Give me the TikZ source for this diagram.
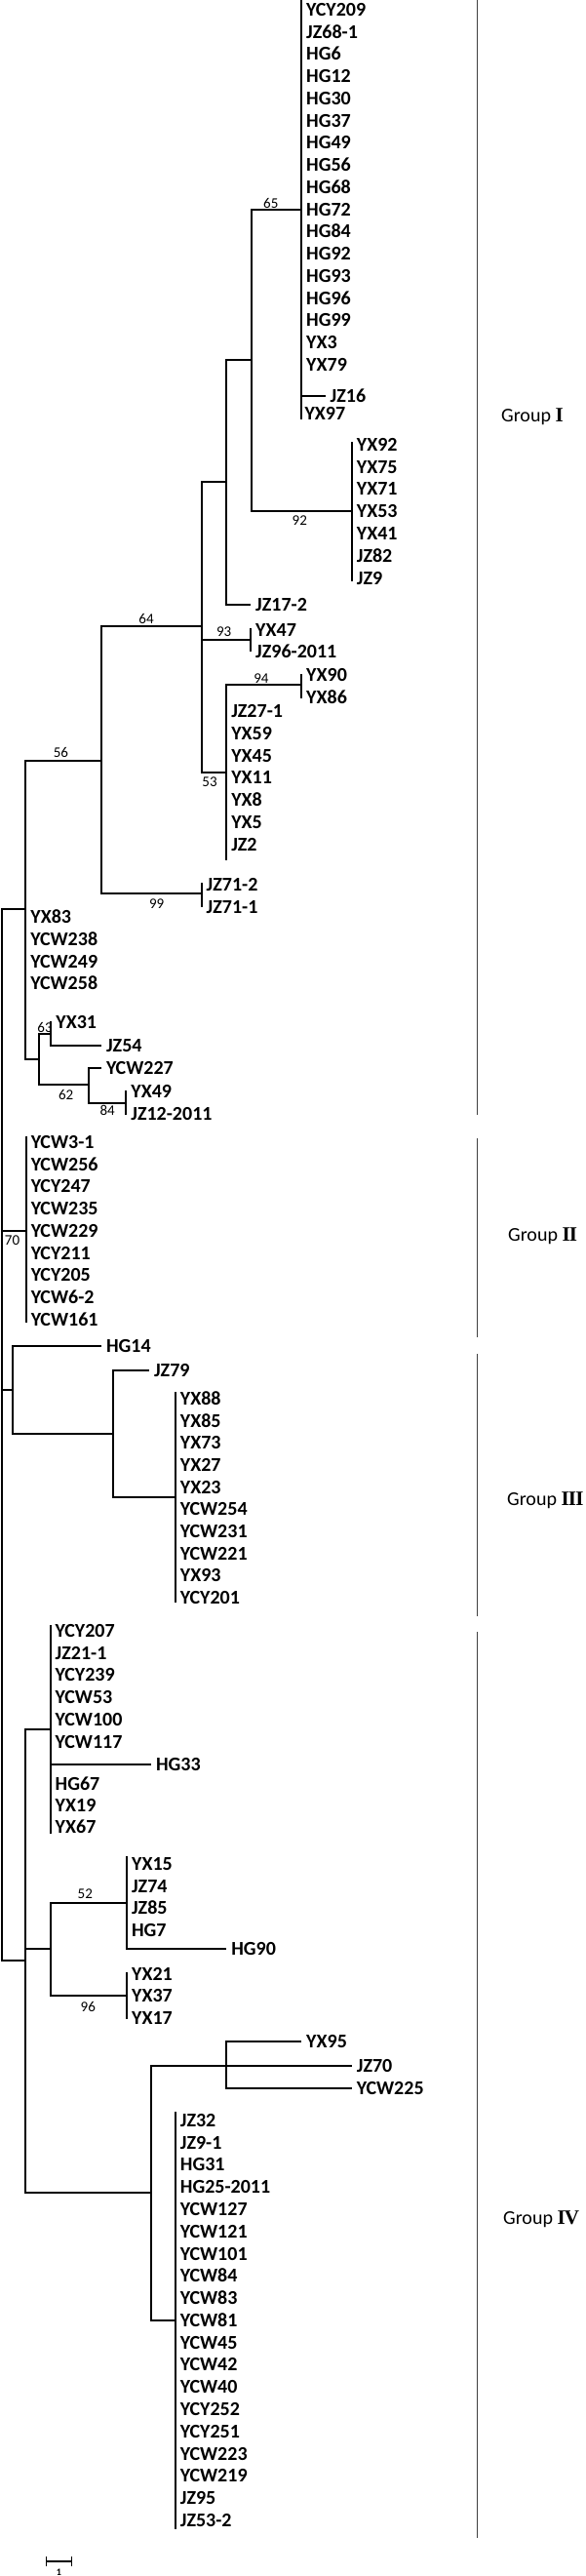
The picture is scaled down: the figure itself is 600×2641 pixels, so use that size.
\documentclass[tikz,border=0pt]{standalone}
\usepackage{fontspec}
\setmainfont{Carlito}
\newfontfamily\grpnum{Liberation Serif}
\usetikzlibrary{arrows.meta}

\tikzset{
    leaf/.style={anchor=west, inner xsep=5pt, inner ysep=0pt, outer sep=0pt,
        text height=12.6pt, text depth=0pt, font=\bfseries\fontsize{20}{20}\selectfont},
    boot/.style={inner sep=0pt, font=\fontsize{15}{15}\selectfont},
    branch/.style={line width=2pt},
    bracket/.style={line width=1.1pt, black!75},
    grp/.style={anchor=west, inner sep=0pt, text height=12.8pt, text depth=0pt,
        font=\fontsize{20}{20}\selectfont}
}
\newcommand{\grpno}[1]{{\grpnum\bfseries\fontsize{21}{21}\selectfont #1}}

\begin{document}
\begin{tikzpicture}[x=1pt, y=-1pt]
        \useasboundingbox (0,0) rectangle (600,2641);

        \coordinate (r) at (1.5, 1471);
        \coordinate (gI) at (26.4, 932);
        \coordinate (n56) at (104.1, 780);
        \coordinate (n64) at (206.7, 642);
        \coordinate (nA) at (232.3, 494);
        \coordinate (nB) at (257.6, 369);
        \coordinate (n65) at (309.2, 215);
        \coordinate (n65t) at (309.2, 0.5);
        \coordinate (n65b) at (309.2, 430);
        \coordinate (n92) at (360.9, 524);
        \coordinate (n92t) at (360.9, 453);
        \coordinate (n92b) at (360.9, 596);
        \coordinate (n93) at (257.2, 656);
        \coordinate (n93t) at (257.2, 644);
        \coordinate (n93b) at (257.2, 668);
        \coordinate (n53) at (232.3, 792);
        \coordinate (n53b) at (232.3, 882);
        \coordinate (n94) at (309.2, 702);
        \coordinate (n94t) at (309.2, 691);
        \coordinate (n94b) at (309.2, 716);
        \coordinate (n99) at (206.7, 916);
        \coordinate (n99t) at (206.7, 905);
        \coordinate (n99b) at (206.7, 930);
        \coordinate (nC) at (39.8, 1086);
        \coordinate (n63) at (52.4, 1060);
        \coordinate (n63t) at (52.4, 1047);
        \coordinate (n62) at (91.1, 1112);
        \coordinate (n84) at (129.4, 1131);
        \coordinate (n84t) at (129.4, 1118);
        \coordinate (n84b) at (129.4, 1143);
        \coordinate (n70) at (26.8, 1262);
        \coordinate (n70t) at (26.8, 1165);
        \coordinate (n70b) at (26.8, 1356);
        \coordinate (nD) at (13.4, 1425);
        \coordinate (nE) at (115.6, 1470);
        \coordinate (nF) at (179.9, 1535);
        \coordinate (nFt) at (179.9, 1427);
        \coordinate (nFb) at (179.9, 1643);
        \coordinate (nG) at (26.4, 2010);
        \coordinate (nH) at (51.7, 1773);
        \coordinate (nHt) at (51.7, 1666);
        \coordinate (nHb) at (51.7, 1880);
        \coordinate (nI) at (52.4, 1998);
        \coordinate (n52) at (130.1, 1951);
        \coordinate (n52t) at (130.1, 1903);
        \coordinate (n96) at (130.1, 2046);
        \coordinate (n96t) at (130.1, 2022);
        \coordinate (n96b) at (130.1, 2070);
        \coordinate (nJ) at (154.6, 2248);
        \coordinate (nK) at (232.3, 2118);
        \coordinate (nL) at (179.9, 2379);
        \coordinate (nLt) at (179.9, 2165);
        \coordinate (nLb) at (179.9, 2593);

        \node[leaf] (YCY209) at (309.2, 10) {YCY209};
        \node[leaf] (JZ68-1) at (309.2, 32.75) {JZ68-1};
        \node[leaf] (HG6) at (309.2, 55.5) {HG6};
        \node[leaf] (HG12) at (309.2, 78.25) {HG12};
        \node[leaf] (HG30) at (309.2, 101) {HG30};
        \node[leaf] (HG37) at (309.2, 123.75) {HG37};
        \node[leaf] (HG49) at (309.2, 146.5) {HG49};
        \node[leaf] (HG56) at (309.2, 169.25) {HG56};
        \node[leaf] (HG68) at (309.2, 192) {HG68};
        \node[leaf] (HG72) at (309.2, 214.75) {HG72};
        \node[leaf] (HG84) at (309.2, 237.5) {HG84};
        \node[leaf] (HG92) at (309.2, 260.25) {HG92};
        \node[leaf] (HG93) at (309.2, 283) {HG93};
        \node[leaf] (HG96) at (309.2, 305.75) {HG96};
        \node[leaf] (HG99) at (309.2, 328.5) {HG99};
        \node[leaf] (YX3) at (309.2, 351.25) {YX3};
        \node[leaf] (YX79) at (309.2, 374) {YX79};
        \node[leaf] (JZ16) at (333.7, 406) {JZ16};
        \node[leaf] (YX97) at (307.5, 424) {YX97};

        \node[leaf] (YX92) at (360.9, 456) {YX92};
        \node[leaf] (YX75) at (360.9, 478.8) {YX75};
        \node[leaf] (YX71) at (360.9, 501.6) {YX71};
        \node[leaf] (YX53) at (360.9, 524.4) {YX53};
        \node[leaf] (YX41) at (360.9, 547.2) {YX41};
        \node[leaf] (JZ82) at (360.9, 570) {JZ82};
        \node[leaf] (JZ9) at (360.9, 592.8) {JZ9};

        \node[leaf] (JZ17-2) at (257.2, 620) {JZ17-2};
        \node[leaf] (YX47) at (257.2, 646) {YX47};
        \node[leaf] (JZ96-2011) at (257.2, 668) {JZ96-2011};
        \node[leaf] (YX90) at (309.2, 692) {YX90};
        \node[leaf] (YX86) at (309.2, 715) {YX86};

        \node[leaf] (JZ27-1) at (232.3, 729) {JZ27-1};
        \node[leaf] (YX59) at (232.3, 752) {YX59};
        \node[leaf] (YX45) at (232.3, 775) {YX45};
        \node[leaf] (YX11) at (232.3, 797) {YX11};
        \node[leaf] (YX8) at (232.3, 820) {YX8};
        \node[leaf] (YX5) at (232.3, 843) {YX5};
        \node[leaf] (JZ2) at (232.3, 866) {JZ2};

        \node[leaf] (JZ71-2) at (206.7, 907) {JZ71-2};
        \node[leaf] (JZ71-1) at (206.7, 930) {JZ71-1};

        \node[leaf] (YX83) at (26.4, 940) {YX83};
        \node[leaf] (YCW238) at (26.4, 963) {YCW238};
        \node[leaf] (YCW249) at (26.4, 986) {YCW249};
        \node[leaf] (YCW258) at (26.4, 1008) {YCW258};
        \node[leaf] (YX31) at (52.4, 1048) {YX31};
        \node[leaf] (JZ54) at (104.1, 1072) {JZ54};
        \node[leaf] (YCW227) at (104.1, 1095) {YCW227};
        \node[leaf] (YX49) at (129.4, 1119) {YX49};
        \node[leaf] (JZ12-2011) at (129.4, 1142) {JZ12-2011};

        \node[leaf] (YCW3-1) at (26.8, 1171) {YCW3-1};
        \node[leaf] (YCW256) at (26.8, 1193.75) {YCW256};
        \node[leaf] (YCY247) at (26.8, 1216.5) {YCY247};
        \node[leaf] (YCW235) at (26.8, 1239.25) {YCW235};
        \node[leaf] (YCW229) at (26.8, 1262) {YCW229};
        \node[leaf] (YCY211) at (26.8, 1284.75) {YCY211};
        \node[leaf] (YCY205) at (26.8, 1307.5) {YCY205};
        \node[leaf] (YCW6-2) at (26.8, 1330.25) {YCW6-2};
        \node[leaf] (YCW161) at (26.8, 1353) {YCW161};

        \node[leaf] (HG14) at (104.1, 1380) {HG14};
        \node[leaf] (JZ79) at (153.1, 1405) {JZ79};
        \node[leaf] (YX88) at (179.9, 1434) {YX88};
        \node[leaf] (YX85) at (179.9, 1456.7) {YX85};
        \node[leaf] (YX73) at (179.9, 1479.3) {YX73};
        \node[leaf] (YX27) at (179.9, 1502) {YX27};
        \node[leaf] (YX23) at (179.9, 1524.7) {YX23};
        \node[leaf] (YCW254) at (179.9, 1547.3) {YCW254};
        \node[leaf] (YCW231) at (179.9, 1570) {YCW231};
        \node[leaf] (YCW221) at (179.9, 1592.7) {YCW221};
        \node[leaf] (YX93) at (179.9, 1615.3) {YX93};
        \node[leaf] (YCY201) at (179.9, 1638) {YCY201};

        \node[leaf] (YCY207) at (51.7, 1672) {YCY207};
        \node[leaf] (JZ21-1) at (51.7, 1694.8) {JZ21-1};
        \node[leaf] (YCY239) at (51.7, 1717.6) {YCY239};
        \node[leaf] (YCW53) at (51.7, 1740.4) {YCW53};
        \node[leaf] (YCW100) at (51.7, 1763.2) {YCW100};
        \node[leaf] (YCW117) at (51.7, 1786) {YCW117};
        \node[leaf] (HG33) at (155, 1809) {HG33};
        \node[leaf] (HG67) at (51.7, 1829) {HG67};
        \node[leaf] (YX19) at (51.7, 1851) {YX19};
        \node[leaf] (YX67) at (51.7, 1873) {YX67};

        \node[leaf] (YX15) at (130.1, 1911) {YX15};
        \node[leaf] (JZ74) at (130.1, 1934) {JZ74};
        \node[leaf] (JZ85) at (130.1, 1956) {JZ85};
        \node[leaf] (HG7) at (130.1, 1979) {HG7};
        \node[leaf] (HG90) at (232.3, 1998) {HG90};
        \node[leaf] (YX21) at (130.1, 2024) {YX21};
        \node[leaf] (YX37) at (130.1, 2046.5) {YX37};
        \node[leaf] (YX17) at (130.1, 2069) {YX17};

        \node[leaf] (YX95) at (309.2, 2093) {YX95};
        \node[leaf] (JZ70) at (360.9, 2118) {JZ70};
        \node[leaf] (YCW225) at (360.9, 2141) {YCW225};

        \node[leaf] (JZ32) at (179.9, 2174) {JZ32};
        \node[leaf] (JZ9-1) at (179.9, 2196.8) {JZ9-1};
        \node[leaf] (HG31) at (179.9, 2219.6) {HG31};
        \node[leaf] (HG25-2011) at (179.9, 2242.3) {HG25-2011};
        \node[leaf] (YCW127) at (179.9, 2265.1) {YCW127};
        \node[leaf] (YCW121) at (179.9, 2287.9) {YCW121};
        \node[leaf] (YCW101) at (179.9, 2310.7) {YCW101};
        \node[leaf] (YCW84) at (179.9, 2333.5) {YCW84};
        \node[leaf] (YCW83) at (179.9, 2356.2) {YCW83};
        \node[leaf] (YCW81) at (179.9, 2379) {YCW81};
        \node[leaf] (YCW45) at (179.9, 2401.8) {YCW45};
        \node[leaf] (YCW42) at (179.9, 2424.6) {YCW42};
        \node[leaf] (YCW40) at (179.9, 2447.4) {YCW40};
        \node[leaf] (YCY252) at (179.9, 2470.1) {YCY252};
        \node[leaf] (YCY251) at (179.9, 2492.9) {YCY251};
        \node[leaf] (YCW223) at (179.9, 2515.7) {YCW223};
        \node[leaf] (YCW219) at (179.9, 2538.5) {YCW219};
        \node[leaf] (JZ95) at (179.9, 2561.3) {JZ95};
        \node[leaf] (JZ53-2) at (179.9, 2584) {JZ53-2};

        \draw[branch] (r) |- (gI)
            (r) |- (n70)
            (r) |- (nD)
            (r) |- (nG)
            (gI) |- (n56)
            (gI) |- (nC)
            (n56) |- (n64)
            (n56) |- (n99)
            (n64) |- (nA)
            (n64) |- (n93)
            (n64) |- (n53)
            (nA) |- (nB)
            (nA) |- (JZ17-2)
            (nB) |- (n65)
            (nB) |- (n92)
            (n65t) -- (n65b)
            (n65) |- (JZ16)
            (n92t) -- (n92b)
            (n93t) -- (n93b)
            (n53) |- (n94)
            (n53) -- (n53b)
            (n94t) -- (n94b)
            (n99t) -- (n99b)
            (nC) |- (n63)
            (nC) |- (n62)
            (n63t) -- (n63)
            (n63) |- (JZ54)
            (n62) |- (YCW227)
            (n62) |- (n84)
            (n84t) -- (n84b)
            (n70t) -- (n70b)
            (nD) |- (HG14)
            (nD) |- (nE)
            (nE) |- (JZ79)
            (nE) |- (nF)
            (nFt) -- (nFb)
            (nG) |- (nH)
            (nG) |- (nI)
            (nG) |- (nJ)
            (nHt) -- (nHb)
            (nH) |- (HG33)
            (nI) |- (n52)
            (nI) |- (n96)
            (n52t) -- (n52)
            (n52) |- (HG90)
            (n96t) -- (n96b)
            (nJ) |- (nK)
            (nJ) |- (nL)
            (nK) |- (YX95)
            (nK) -- (JZ70)
            (nK) |- (YCW225)
            (nLt) -- (nLb);

        \node[boot] (b65) at (277.8, 208.5) {65};
        \node[boot] (b92) at (307.3, 533.5) {92};
        \node[boot] (b64) at (150, 634.5) {64};
        \node[boot] (b93) at (229.6, 647.5) {93};
        \node[boot] (b94) at (267.9, 695.5) {94};
        \node[boot] (b53) at (215, 801.5) {53};
        \node[boot] (b56) at (62.4, 771.5) {56};
        \node[boot] (b99) at (160.7, 926.5) {99};
        \node[boot] (b63) at (46, 1053.5) {63};
        \node[boot] (b62) at (67.7, 1122.5) {62};
        \node[boot] (b84) at (110.2, 1138.5) {84};
        \node[boot] (b70) at (12.6, 1271.5) {70};
        \node[boot] (b52) at (87.3, 1941.5) {52};
        \node[boot] (b96) at (90.3, 2057.5) {96};

        \coordinate (g1t) at (489.9, 0);
        \coordinate (g1b) at (489.9, 1143);
        \coordinate (g2t) at (489.9, 1167);
        \coordinate (g2b) at (489.9, 1371);
        \coordinate (g3t) at (489.9, 1388);
        \coordinate (g3b) at (489.9, 1657);
        \coordinate (g4t) at (489.9, 1673);
        \coordinate (g4b) at (489.9, 2602);
        \draw[bracket] (g1t) -- (g1b)
            (g2t) -- (g2b)
            (g3t) -- (g3b)
            (g4t) -- (g4b);
        \node[grp] (grp1) at (514, 426) {Group \grpno{I}};
        \node[grp] (grp2) at (521, 1266.5) {Group \grpno{I\kern-0.8ptI}};
        \node[grp] (grp3) at (520, 1537) {Group \grpno{I\kern-0.8ptI\kern-0.8ptI}};
        \node[grp] (grp4) at (516, 2274) {Group \grpno{I\kern-0.8ptV}};

        \coordinate (s1) at (47, 2626);
        \coordinate (s2) at (74, 2626);
        \draw[line width=1.4pt, {Bar[width=10pt]}-{Bar[width=10pt]}] (s1) -- (s2);
        \node[boot, font=\bfseries\fontsize{10}{10}\selectfont] (sl) at (60.5, 2637) {1};
    \end{tikzpicture}
\end{document}
